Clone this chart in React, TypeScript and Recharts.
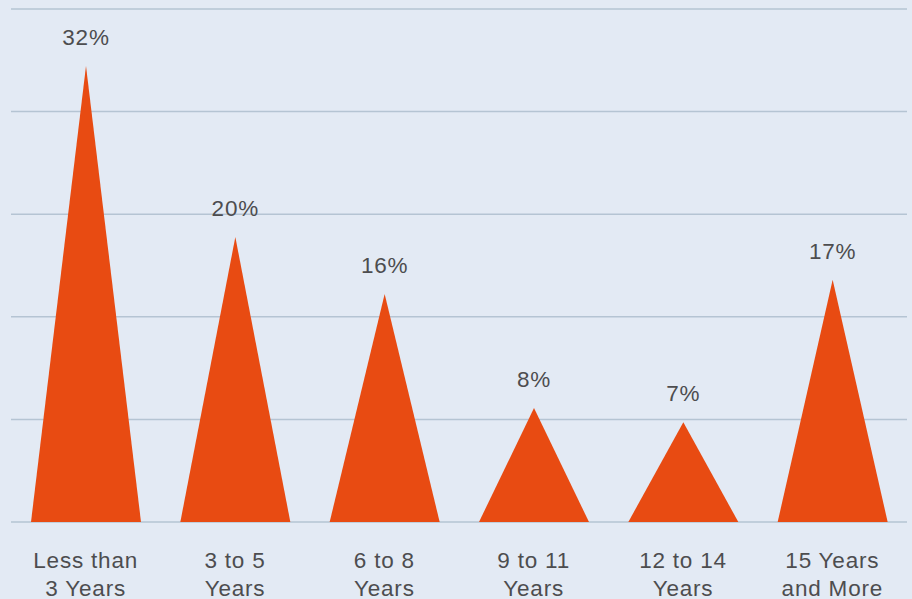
import { BarChart, Bar, XAxis, YAxis, CartesianGrid, LabelList } from 'recharts'

// Share of respondents by tenure band
const categories = ['Less than\n3 Years', '3 to 5\nYears', '6 to 8\nYears', '9 to 11\nYears', '12 to 14\nYears', '15 Years\nand More']
const shares = [32, 20, 16, 8, 7, 17]
const gridTicks = [0, 7.2, 14.4, 21.6, 28.8, 36]

const data = categories.map((name, i) => ({ name, value: shares[i] }))

const ORANGE = '#e84b12'
const TEXT = '#4d4d4f'
const FONT = '"Liberation Sans", Arial, sans-serif'

// Draws each bar as a triangle on its band
const Triangle = (props: any) => {
  const { x, y, width, height } = props
  const d = `M${x},${y + height} L${x + width / 2},${y} L${x + width},${y + height} Z`
  return <path d={d} fill={ORANGE} />
}

const TwoLineTick = (props: any) => {
  const { x, y, payload } = props
  const lines = String(payload.value).split('\n')
  return (
    <text x={x} y={y} textAnchor="middle" fill={TEXT} fontSize={22.5} fontFamily={FONT} letterSpacing={0.8}>
      {lines.map((line, i) => (
        <tspan key={i} x={x} dy={i === 0 ? 38 : 28}>
          {line}
        </tspan>
      ))}
    </text>
  )
}

const PeakLabel = (props: any) => {
  const { x, y, width, value } = props
  return (
    <text x={x + width / 2} y={y - 21} textAnchor="middle" fill={TEXT} fontSize={22.5} fontFamily={FONT} letterSpacing={0.8}>
      {value}%
    </text>
  )
}

export default function App() {
  return (
    <div style={{ width: 912, height: 599, background: '#e3eaf4', overflow: 'hidden' }}>
      <style>{'body{margin:0}'}</style>
      <BarChart width={912} height={599} data={data} margin={{ top: 9, right: 5, bottom: 0, left: 11 }} barSize={110}>
        <CartesianGrid vertical={false} syncWithTicks stroke="#b5c4d3" strokeWidth={1.5} />
        <XAxis dataKey="name" height={77} axisLine={false} tickLine={false} tick={<TwoLineTick />} interval={0} />
        <YAxis hide domain={[0, 36]} ticks={gridTicks} interval={0} />
        <Bar dataKey="value" shape={<Triangle />} isAnimationActive={false}>
          <LabelList dataKey="value" content={<PeakLabel />} />
        </Bar>
      </BarChart>
    </div>
  )
}
